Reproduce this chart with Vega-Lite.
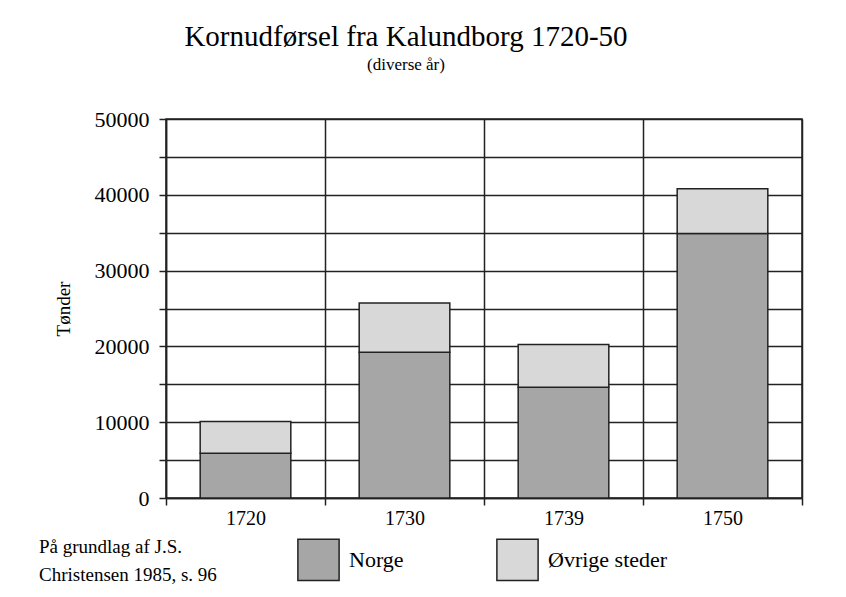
{
  "$schema": "https://vega.github.io/schema/vega-lite/v6.json",
  "autosize": "none",
  "width": 636,
  "height": 379,
  "padding": {"left": 166, "top": 119, "right": 44, "bottom": 99},
  "background": "white",
  "title": {
    "text": "Kornudførsel fra Kalundborg 1720-50",
    "subtitle": "(diverse år)",
    "anchor": "middle",
    "frame": "group",
    "dx": -78,
    "offset": 35,
    "font": "Liberation Serif",
    "fontSize": 29,
    "fontWeight": "normal",
    "color": "black",
    "subtitleFont": "Liberation Serif",
    "subtitleFontSize": 17,
    "subtitleColor": "black",
    "subtitlePadding": 5
  },
  "data": {
    "values": [
      {"aar": "1720", "serie": "Norge", "tonder": 5900},
      {"aar": "1720", "serie": "Øvrige steder", "tonder": 4200},
      {"aar": "1730", "serie": "Norge", "tonder": 19220},
      {"aar": "1730", "serie": "Øvrige steder", "tonder": 6500},
      {"aar": "1739", "serie": "Norge", "tonder": 14600},
      {"aar": "1739", "serie": "Øvrige steder", "tonder": 5650},
      {"aar": "1750", "serie": "Norge", "tonder": 34900},
      {"aar": "1750", "serie": "Øvrige steder", "tonder": 5900}
    ]
  },
  "mark": {"type": "bar", "stroke": "#222", "strokeWidth": 1.5, "width": {"band": 0.57}},
  "encoding": {
    "x": {
      "field": "aar",
      "type": "ordinal",
      "scale": {"paddingInner": 0, "paddingOuter": 0},
      "axis": {
        "title": null,
        "labelAngle": 0,
        "tickBand": "extent",
        "grid": true,
        "gridColor": "#222",
        "gridWidth": 1.5,
        "gridOpacity": 1,
        "domainColor": "#222",
        "domainWidth": 1.5,
        "tickColor": "#222",
        "tickWidth": 1.5,
        "tickSize": 7,
        "labelFont": "Liberation Serif",
        "labelFontSize": 20,
        "labelColor": "black",
        "labelPadding": 3
      }
    },
    "y": {
      "field": "tonder",
      "type": "quantitative",
      "aggregate": "sum",
      "stack": "zero",
      "scale": {"domain": [0, 50000], "nice": false},
      "axis": {
        "title": "Tønder",
        "titleFont": "Liberation Serif",
        "titleFontSize": 19,
        "titleFontWeight": "normal",
        "titleColor": "black",
        "titlePadding": 21,
        "values": [0, 5000, 10000, 15000, 20000, 25000, 30000, 35000, 40000, 45000, 50000],
        "format": "d",
        "labelExpr": "datum.value % 10000 == 0 ? datum.label : ''",
        "grid": true,
        "gridColor": "#222",
        "gridWidth": 1.5,
        "gridOpacity": 1,
        "domainColor": "#222",
        "domainWidth": 1.5,
        "tickColor": "#222",
        "tickWidth": 1.5,
        "tickSize": 7,
        "labelFont": "Liberation Serif",
        "labelFontSize": 22,
        "labelColor": "black",
        "labelPadding": 10
      }
    },
    "color": {
      "field": "serie",
      "type": "nominal",
      "scale": {"domain": ["Norge", "Øvrige steder"], "range": ["#a6a6a6", "#d8d8d8"]},
      "legend": {
        "title": ["På grundlag af J.S.", "Christensen 1985, s. 96"],
        "titleOrient": "left",
        "titleAnchor": "start",
        "titleBaseline": "top",
        "titleFont": "Liberation Serif",
        "titleFontSize": 19,
        "titleFontWeight": "normal",
        "titleColor": "black",
        "titleLineHeight": 28,
        "titleLimit": 400,
        "titlePadding": 80,
        "orient": "none",
        "legendX": -127,
        "legendY": 419,
        "direction": "horizontal",
        "columnPadding": 89,
        "symbolType": "square",
        "symbolSize": 1700,
        "symbolStrokeColor": "#222",
        "symbolStrokeWidth": 1.5,
        "symbolOpacity": 1,
        "labelFont": "Liberation Serif",
        "labelFontSize": 22,
        "labelColor": "black",
        "labelOffset": 9,
        "labelLimit": 300
      }
    },
    "order": {"field": "serie", "sort": "ascending"}
  },
  "config": {
    "font": "Liberation Serif",
    "title": {"font": "Liberation Serif", "subtitleFont": "Liberation Serif"},
    "view": {"stroke": "#222", "strokeWidth": 1.5}
  }
}
